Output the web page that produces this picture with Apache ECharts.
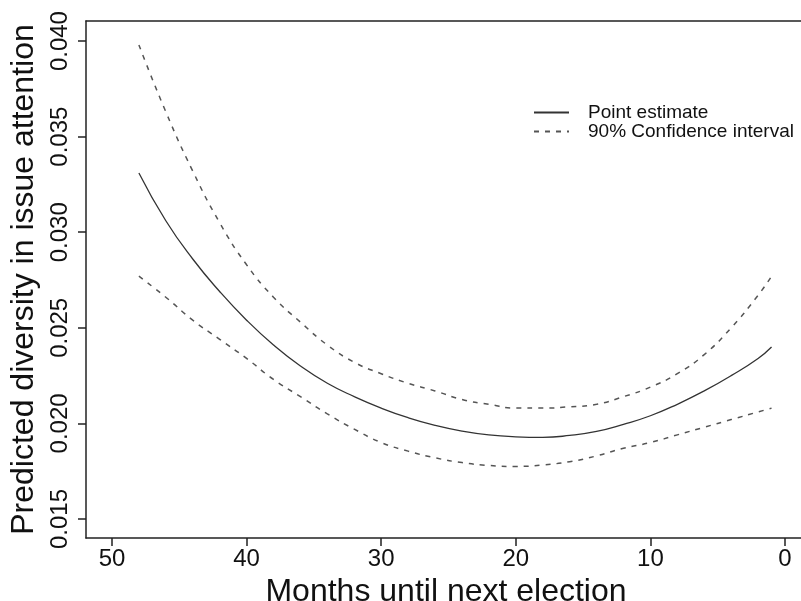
<!DOCTYPE html>
<html>
<head>
<meta charset="utf-8">
<script src="https://cdn.jsdelivr.net/npm/echarts@6/dist/echarts.min.js"></script>
<style>html,body{margin:0;padding:0;background:#fff;}#c{width:801px;height:601px;}</style>
</head>
<body>
<div id="c"></div>
<script>
var months    = [48, 46, 44, 42, 40, 38, 36, 34, 32, 30, 28, 26, 24, 22, 20, 18, 16, 14, 12, 10, 8, 6, 4, 2, 1];
var pointEst  = [0.0331, 0.0306, 0.0286, 0.0269, 0.0254, 0.0241, 0.0230, 0.0221, 0.0214, 0.0208, 0.0203, 0.0199, 0.0196, 0.0194, 0.0193, 0.01927, 0.01937, 0.01958, 0.01995, 0.0204, 0.0210, 0.0217, 0.0225, 0.0234, 0.0240];
var ciUpper   = [0.0398, 0.0363, 0.0332, 0.0305, 0.0283, 0.0266, 0.0253, 0.0241, 0.0232, 0.0226, 0.0221, 0.0217, 0.02125, 0.0210, 0.0208, 0.0208, 0.02087, 0.0210, 0.0214, 0.0219, 0.0226, 0.0236, 0.0250, 0.0267, 0.0277];
var ciLower   = [0.0277, 0.0266, 0.0254, 0.0244, 0.0234, 0.0223, 0.0214, 0.0205, 0.0197, 0.0190, 0.01855, 0.0182, 0.01795, 0.0178, 0.01775, 0.01783, 0.0180, 0.0183, 0.0187, 0.0190, 0.0194, 0.0198, 0.0202, 0.0206, 0.0208];
var xTicks = [0, 10, 20, 30, 40, 50];
var yTicks = [0.015, 0.020, 0.025, 0.030, 0.035, 0.040];

function zip(xs, ys) { return xs.map(function (x, i) { return [x, ys[i]]; }); }

var font = '"Liberation Sans", Arial, sans-serif';
var xMin = -1.56, xMax = 51.93;
var chart = echarts.init(document.getElementById('c'), null, { renderer: 'canvas' });
chart.setOption({
  animation: false,
  backgroundColor: '#fff',
  grid: { left: 86, top: 21, width: 720, height: 517, outerBoundsMode: 'none', containLabel: false, show: false },
  legend: {
    orient: 'vertical', left: 533, top: 103, padding: 0,
    itemWidth: 35, itemHeight: 18, itemGap: 0,
    itemStyle: { color: 'transparent', borderColor: 'transparent', borderWidth: 0, opacity: 0 },
    textStyle: { fontFamily: font, fontSize: 19, color: '#111', lineHeight: 18, padding: [0, 0, 0, 14] },
    data: ['Point estimate', '90% Confidence interval']
  },
  xAxis: [{
    type: 'value', inverse: true, min: xMin, max: xMax, position: 'bottom',
    name: 'Months until next election', nameLocation: 'middle', nameGap: 26,
    nameTextStyle: { fontFamily: font, fontSize: 32, color: '#111' },
    axisLine: { show: true, onZero: false, lineStyle: { color: '#222', width: 1.5 } },
    axisTick: { show: true, length: 8, lineStyle: { color: '#222', width: 1.5 }, customValues: xTicks },
    axisLabel: { fontFamily: font, fontSize: 24, color: '#111', margin: 9, customValues: xTicks },
    splitLine: { show: false }
  }, {
    type: 'value', inverse: true, min: xMin, max: xMax, position: 'top',
    axisLine: { show: true, onZero: false, lineStyle: { color: '#222', width: 1.5 } },
    axisTick: { show: false }, axisLabel: { show: false }, splitLine: { show: false }
  }],
  yAxis: {
    type: 'value', min: 0.014006, max: 0.04105,
    name: 'Predicted diversity in issue attention', nameLocation: 'middle', nameGap: 38, nameRotate: 90,
    nameTextStyle: { fontFamily: font, fontSize: 32, color: '#111' },
    axisLine: { show: true, onZero: false, lineStyle: { color: '#222', width: 1.5 } },
    axisTick: { show: true, length: 8, lineStyle: { color: '#222', width: 1.5 }, customValues: yTicks },
    axisLabel: { fontFamily: font, fontSize: 24, color: '#111', margin: 14, rotate: 90,
      customValues: yTicks, formatter: function (v) { return v.toFixed(3); } },
    splitLine: { show: false }
  },
  series: [
    { name: 'Point estimate', type: 'line', symbol: 'none', smooth: 0.5, data: zip(months, pointEst),
      lineStyle: { color: '#333', width: 1.3, type: 'solid' }, itemStyle: { color: '#333' } },
    { name: '90% Confidence interval', type: 'line', symbol: 'none', smooth: 0.5, data: zip(months, ciUpper),
      lineStyle: { color: '#555', width: 1.5, type: [5, 6] }, itemStyle: { color: '#555' } },
    { name: '90% Confidence interval', type: 'line', symbol: 'none', smooth: 0.5, data: zip(months, ciLower),
      lineStyle: { color: '#555', width: 1.5, type: [5, 6] }, itemStyle: { color: '#555' } }
  ]
});
</script>
</body>
</html>
